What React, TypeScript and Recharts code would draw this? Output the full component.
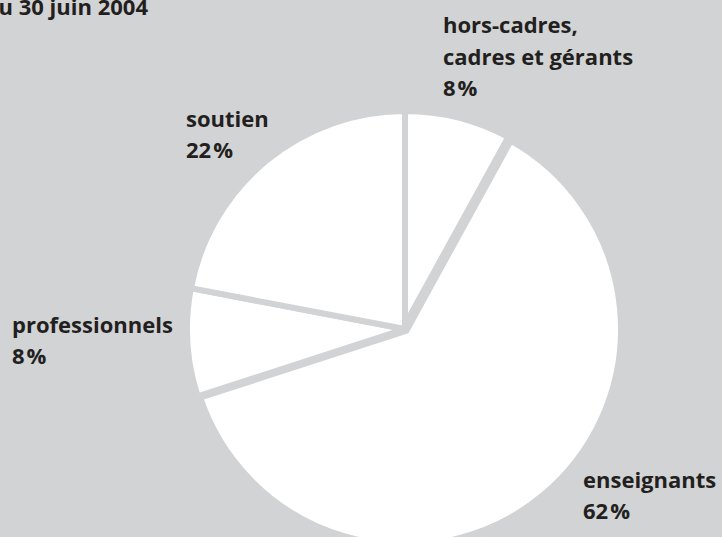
import React from "react";
import { PieChart, Pie, Cell } from "recharts";

const categories = ["hors-cadres, cadres et gérants", "enseignants", "professionnels", "soutien"];
const shares = [8, 62, 8, 22];
const labelLines = [["hors-cadres,", "cadres et gérants"], ["enseignants"], ["professionnels"], ["soutien"]];
const titleText = "au 30 juin 2004";

// label anchors (left x, first baseline) for each slice, layout only
const LABEL_POS = [
  { x: 443, y: 33 },
  { x: 583, y: 488 },
  { x: 12, y: 333 },
  { x: 186, y: 127 },
];
const GAP = [6, 10, 6, 6];

const BG = "#d1d3d4";
const INK = "#231f20";
const FONT = "'Open Sans', 'Noto Sans', sans-serif";
const FS = 22;

const data = categories.map((name, i) => ({ name, value: shares[i] }));

const renderLabel = (props: any) => {
  const { index, value } = props;
  const pos = LABEL_POS[index];
  const lines = labelLines[index];
  return (
    <text x={pos.x} y={pos.y} fill={INK} fontFamily={FONT} fontWeight={700} fontSize={FS}>
      {lines.map((l, i) => (
        <tspan key={i} x={pos.x} dy={i === 0 ? 0 : 32}>
          {l}
        </tspan>
      ))}
      <tspan x={pos.x} dy={31}>
        {value}
      </tspan>
      <tspan dx={2}>%</tspan>
    </text>
  );
};

export default function App() {
  return (
    <div style={{ position: "absolute", left: 0, top: 0, width: 722, height: 537, background: BG, overflow: "hidden" }}>
      <PieChart width={722} height={537} margin={{ top: 0, right: 0, bottom: 0, left: 0 }}>
        <text x={148} y={15} textAnchor="end" fill={INK} fontFamily={FONT} fontWeight={700} fontSize={FS}>
          {titleText}
        </text>
        <Pie
          data={data}
          dataKey="value"
          nameKey="name"
          cx={405}
          cy={329}
          innerRadius={0}
          outerRadius={218}
          startAngle={90}
          endAngle={-270}
          stroke={BG}
          label={renderLabel}
          labelLine={false}
          isAnimationActive={false}
        >
          {data.map((d, i) => (
            <Cell key={d.name} fill="#ffffff" stroke={BG} strokeWidth={GAP[i]} />
          ))}
        </Pie>
      </PieChart>
    </div>
  );
}
